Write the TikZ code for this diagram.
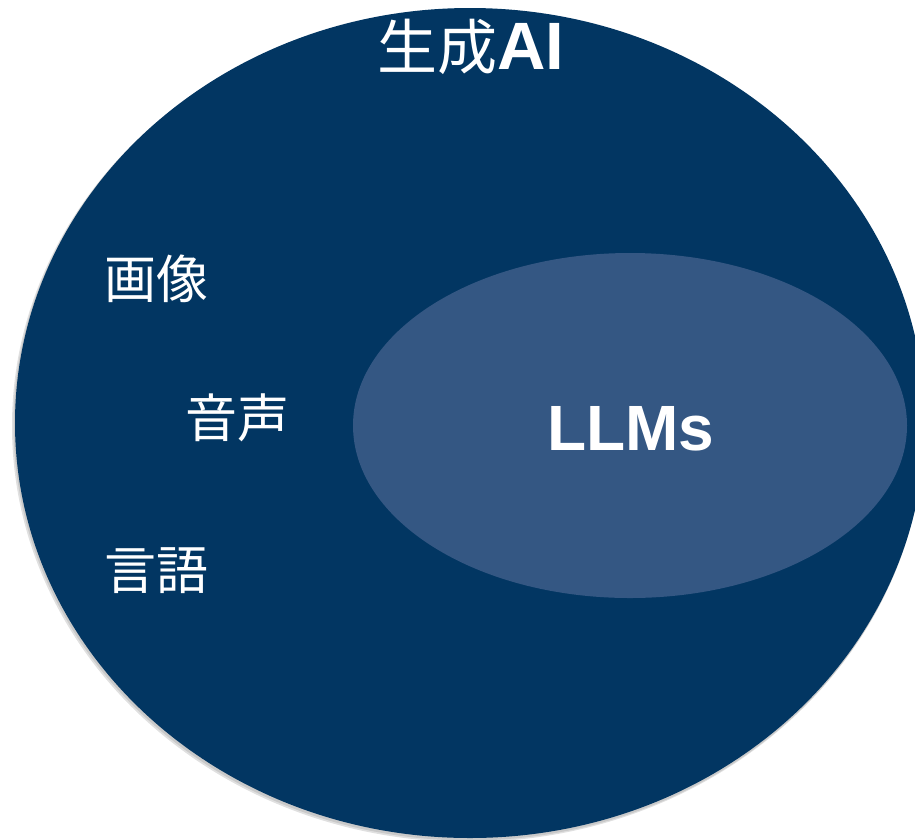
\documentclass[tikz,border=0pt]{standalone}
\usepackage{fontspec}
\newfontfamily\cjk{Noto Sans CJK JP}
\newfontfamily\arial{Liberation Sans}
\definecolor{outerblue}{RGB}{2,54,98}
\definecolor{innerblue}{RGB}{52,87,131}
\tikzset{
  lbl/.style={text=white, inner sep=0pt, anchor=center},
  cjklbl/.style={lbl, font=\cjk\fontsize{52}{52}\selectfont},
}
\begin{document}
\begin{tikzpicture}[x=1pt,y=-1pt]
\useasboundingbox (0,0) rectangle (915,839);
% shadow
\fill[black, opacity=0.12] (468,426) ellipse [x radius=456pt, y radius=416pt];
\fill[black, opacity=0.10] (469,425) ellipse [x radius=455.5pt, y radius=415.5pt];
% outer ellipse
\fill[outerblue] (470,423) ellipse [x radius=455pt, y radius=415pt];
\coordinate (outerc) at (470,423);
% inner ellipse
\fill[innerblue] (630,425.5) ellipse [x radius=277pt, y radius=172.5pt];
\coordinate (innerc) at (630,425.5);
% labels
\node[lbl] (genai) at (471,47) {\cjk\fontsize{60}{60}\selectfont 生成\arial\bfseries\fontsize{67}{67}\selectfont AI};
\node[cjklbl] (gazo) at (156,279) {画像};
\node[cjklbl] (onsei) at (237,418) {音声};
\node[cjklbl] (gengo) at (156,571) {言語};
\node[lbl, font=\arial\bfseries\fontsize{64}{64}\selectfont] (llms) at (631,428.5) {LLMs};
\end{tikzpicture}
\end{document}
